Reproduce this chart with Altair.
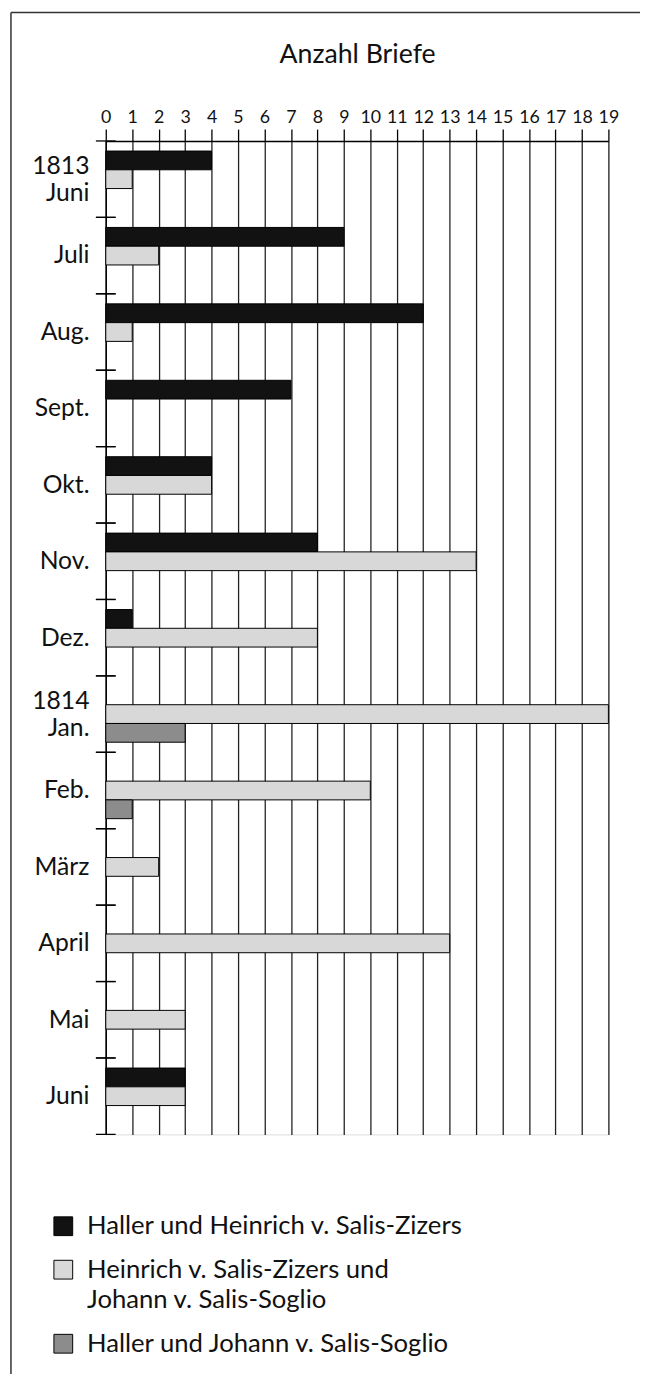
import altair as alt
import pandas as pd

# ---- data ----
months = ["1813|Juni", "Juli", "Aug.", "Sept.", "Okt.", "Nov.", "Dez.",
          "1814|Jan.", "Feb.", "März", "April", "Mai", "Juni"]
series = ["Haller und Heinrich v. Salis-Zizers",
          "Heinrich v. Salis-Zizers und|Johann v. Salis-Soglio",
          "Haller und Johann v. Salis-Soglio"]
haller_heinrich = [4, 9, 12, 7, 4, 8, 1, 0, 0, 0, 0, 0, 3]
heinrich_johann = [1, 2, 1, 0, 4, 14, 8, 19, 10, 2, 13, 3, 3]
haller_johann = [0, 0, 0, 0, 0, 0, 0, 3, 1, 0, 0, 0, 0]
x_ticks = list(range(0, 20))
colors = ["#121212", "#d8d8d8", "#8c8c8c"]

rows = []
for s, vals in zip(series, [haller_heinrich, heinrich_johann, haller_johann]):
    for m, v in zip(months, vals):
        if v > 0:
            rows.append({"month": m, "series": s, "value": v})
df = pd.DataFrame(rows)
mdf = pd.DataFrame({"month": months})
dummy = pd.DataFrame({"a": [0]})

FONT = "Lato"

y_axis = alt.Axis(title=None, ticks=False, domain=True, domainColor="black",
                  domainWidth=1.5, labelPadding=17, labelFontSize=25,
                  labelLineHeight=27, labelColor="#111", labelFont=FONT,
                  labelExpr="split(datum.label, '|')", labelOverlap=False,
                  labelOffset={"condition": {"test": "indexof(datum.value, '|') >= 0",
                                             "value": -13},
                               "value": 0},
                  grid=False)
y_scale = alt.Scale(domain=months, paddingInner=0, paddingOuter=0)

bars = alt.Chart(df).mark_bar(stroke="black", strokeWidth=1).encode(
    x=alt.X("value:Q",
            scale=alt.Scale(domain=[0, 19], nice=False, zero=True),
            axis=alt.Axis(orient="top", values=x_ticks, title="Anzahl Briefe",
                          titleFontSize=27, titleFontWeight="normal",
                          titleFont=FONT, titleColor="#111", titlePadding=40,
                          domainColor="black", domainWidth=1.5,
                          tickColor="black", tickSize=12, tickWidth=1.3,
                          labelFontSize=18, labelFont=FONT, labelColor="#111",
                          labelPadding=3, labelFlush=False, labelOverlap=False,
                          labelAngle=0, grid=True, gridColor="#222",
                          gridWidth=1.3, gridOpacity=1)),
    y=alt.Y("month:N", scale=y_scale, axis=y_axis),
    yOffset=alt.YOffset("series:N",
                        scale=alt.Scale(domain=series, paddingInner=0,
                                        paddingOuter=0.537)),
    color=alt.Color("series:N",
                    scale=alt.Scale(domain=series, range=colors),
                    legend=alt.Legend(orient="none", legendX=-56, legendY=1086,
                                      title=None, symbolType="square",
                                      symbolSize=361, symbolStrokeColor="black",
                                      symbolStrokeWidth=1, symbolOpacity=1,
                                      labelFontSize=26, labelFont=FONT,
                                      labelColor="#111", labelLimit=600,
                                      labelOffset=11, rowPadding=18,
                                      labelExpr="split(datum.label, '|')")),
)

ticks_top = alt.Chart(mdf).mark_rule(color="black", strokeWidth=1.3).encode(
    y=alt.Y("month:N", bandPosition=0, scale=y_scale, axis=y_axis),
    x=alt.value(-10), x2=alt.value(10),
)
ticks_bottom = alt.Chart(mdf).mark_rule(color="black", strokeWidth=1.3).encode(
    y=alt.Y("month:N", bandPosition=1, scale=y_scale, axis=y_axis),
    x=alt.value(-10), x2=alt.value(10),
)

frame_left = alt.Chart(dummy).mark_rule(color="#333", strokeWidth=1.5).encode(
    x=alt.value(-96), y=alt.value(-130), y2=alt.value(1250))
frame_top = alt.Chart(dummy).mark_rule(color="#333", strokeWidth=1.5).encode(
    x=alt.value(-96), x2=alt.value(541), y=alt.value(-130))

chart = alt.layer(bars, ticks_top, ticks_bottom, frame_left, frame_top).properties(
    width=509, height=1006,
    autosize=alt.AutoSizeParams(type="none"),
    padding={"left": 99, "top": 126, "right": 32, "bottom": 234},
).configure_view(stroke=None).configure(
    background="white",
    style={"guide-label": {"lineHeight": 31}},
)

chart.save("out.html", embed_options={"renderer": "svg", "actions": False})
